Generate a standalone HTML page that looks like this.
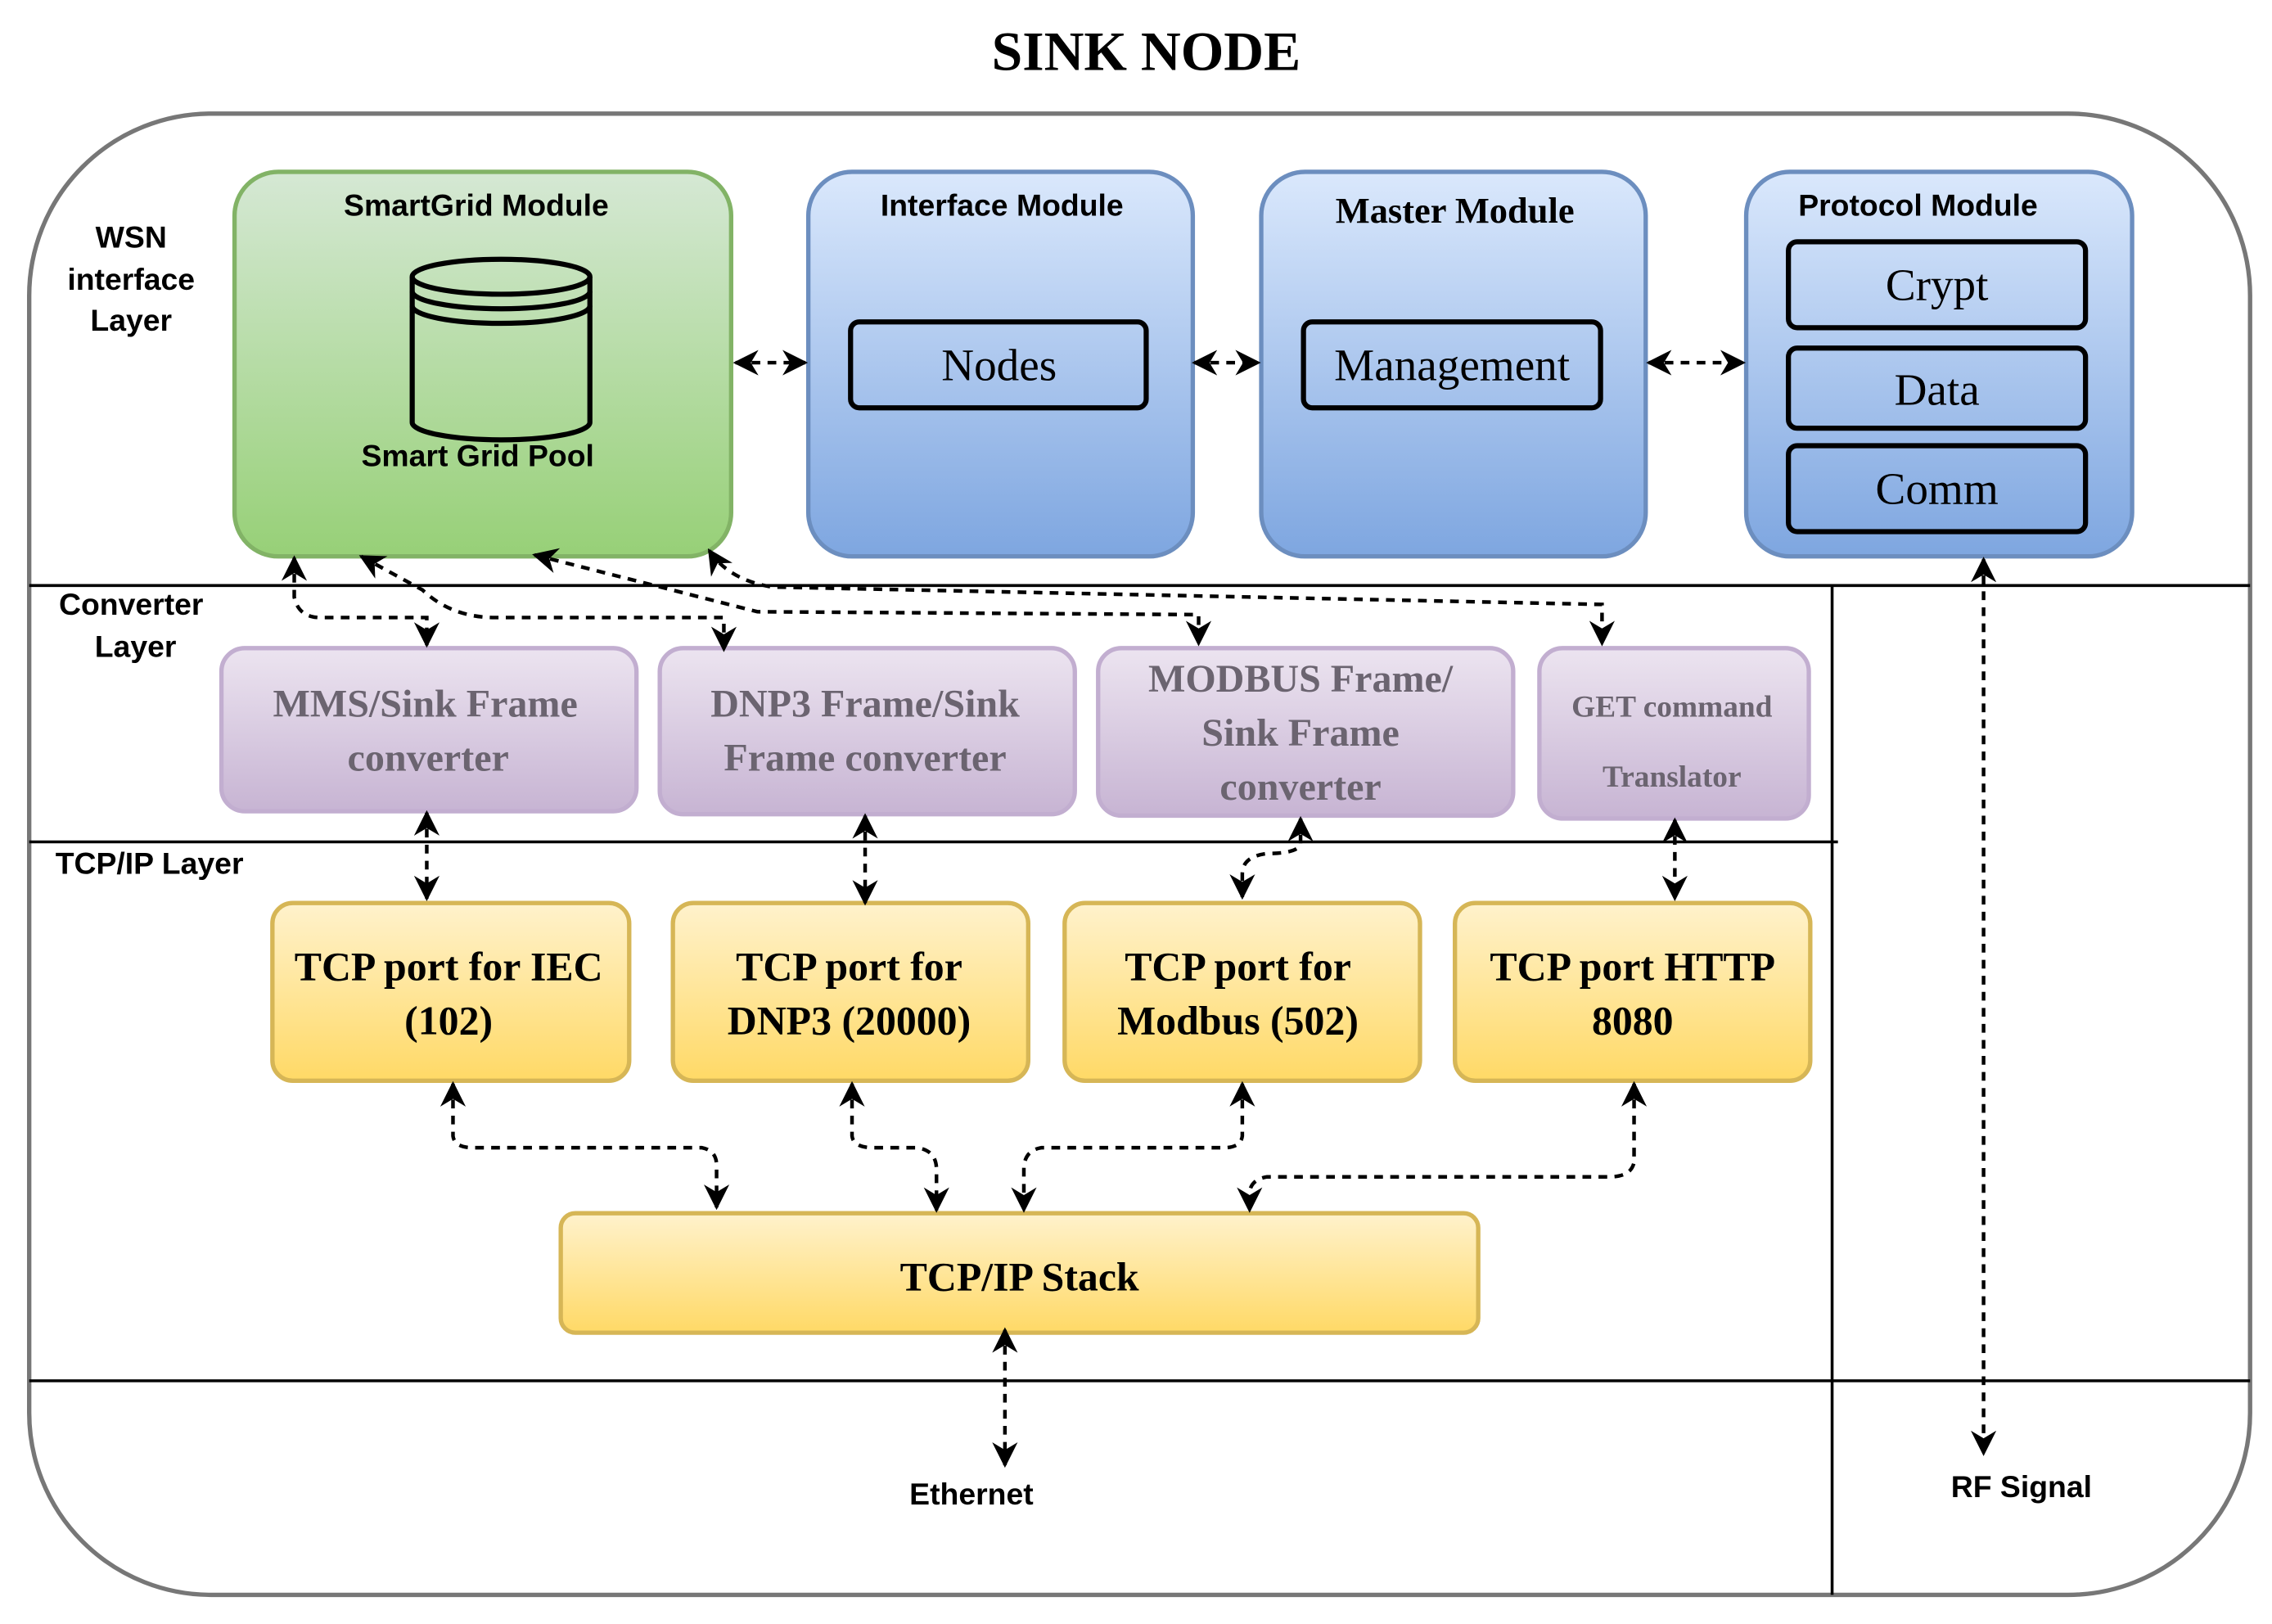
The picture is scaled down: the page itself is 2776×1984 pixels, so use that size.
<!DOCTYPE html>
<html><head><meta charset="utf-8"><style>html,body{margin:0;padding:0;background:#fff}svg{display:block}</style></head>
<body>
<svg width="2776" height="1984" viewBox="0 0 1560 1115" xmlns="http://www.w3.org/2000/svg">
<defs>
<linearGradient id="g" x1="0" y1="0" x2="0" y2="1"><stop offset="0" stop-color="#d5e8d4"/><stop offset="1" stop-color="#97d077"/></linearGradient>
<linearGradient id="b" x1="0" y1="0" x2="0" y2="1"><stop offset="0" stop-color="#dae8fc"/><stop offset="1" stop-color="#7ea6e0"/></linearGradient>
<linearGradient id="p" x1="0" y1="0" x2="0" y2="1"><stop offset="0" stop-color="#ece4f0"/><stop offset="1" stop-color="#c7b4d3"/></linearGradient>
<linearGradient id="y" x1="0" y1="0" x2="0" y2="1"><stop offset="0" stop-color="#fff2cc"/><stop offset="1" stop-color="#ffd966"/></linearGradient>
<marker id="a" viewBox="0 0 10 10" refX="9" refY="5" markerWidth="7" markerHeight="7" orient="auto-start-reverse"><path d="M0,0 L10,5 L0,10 L3,5 z" fill="#000"/></marker>
</defs>
<style>
text{font-family:"Liberation Sans",sans-serif}
text.s,.s text{font-family:"Liberation Serif",serif}
.d{fill:none;stroke:#000;stroke-width:2.5;stroke-dasharray:6,5;marker-start:url(#a);marker-end:url(#a)}
.l{stroke:#000;stroke-width:2}
</style>
<text x="787" y="48" text-anchor="middle" class="s" font-size="38" font-weight="bold">SINK NODE</text>
<rect x="20" y="78" width="1525" height="1017" rx="125" fill="none" stroke="#777" stroke-width="3"/>
<line class="l" x1="20" y1="402" x2="1545" y2="402"/>
<line class="l" x1="20" y1="578" x2="1262" y2="578"/>
<line class="l" x1="20" y1="948" x2="1545" y2="948"/>
<line class="l" x1="1258" y1="402" x2="1258" y2="1095"/>
<g font-size="21" font-weight="bold" text-anchor="middle">
<text x="90" y="170">WSN</text><text x="90" y="199">interface</text><text x="90" y="227">Layer</text>
<text x="90" y="422">Converter</text><text x="93" y="451">Layer</text>
<text x="38" y="600" text-anchor="start">TCP/IP Layer</text>
<text x="667" y="1033">Ethernet</text><text x="1388" y="1028">RF Signal</text>
</g>
<rect x="161" y="118" width="341" height="264" rx="30" fill="url(#g)" stroke="#82b366" stroke-width="3"/>
<text x="327" y="148" font-size="21" font-weight="bold" text-anchor="middle">SmartGrid Module</text>
<path d="M283,190 L283,290 A61,12 0 0 0 405,290 L405,190" fill="none" stroke="#000" stroke-width="3.5"/>
<ellipse cx="344" cy="190" rx="61" ry="12" fill="none" stroke="#000" stroke-width="3.5"/>
<path d="M283,200 A61,12 0 0 0 405,200 M283,210 A61,12 0 0 0 405,210" fill="none" stroke="#000" stroke-width="3.5"/>
<text x="328" y="320" font-size="21" font-weight="bold" text-anchor="middle">Smart Grid Pool</text>
<g fill="url(#b)" stroke="#6c8ebf" stroke-width="3">
<rect x="555" y="118" width="264" height="264" rx="30"/><rect x="866" y="118" width="264" height="264" rx="30"/><rect x="1199" y="118" width="265" height="264" rx="30"/>
</g>
<g fill="none" stroke="#000" stroke-width="3.5">
<rect x="584" y="221" width="203" height="59" rx="6"/><rect x="895" y="221" width="204" height="59" rx="6"/>
<rect x="1228" y="166" width="204" height="59" rx="6"/><rect x="1228" y="239" width="204" height="55" rx="6"/><rect x="1228" y="306" width="204" height="59" rx="6"/>
</g>
<text x="688" y="148" font-size="21" font-weight="bold" text-anchor="middle">Interface Module</text>
<text x="999" y="153" class="s" font-size="25" font-weight="bold" text-anchor="middle">Master Module</text>
<text x="1317" y="148" font-size="21" font-weight="bold" text-anchor="middle">Protocol Module</text>
<g class="s" font-size="31" text-anchor="middle">
<text x="686" y="261">Nodes</text><text x="997" y="261">Management</text>
<text x="1330" y="206">Crypt</text><text x="1330" y="278">Data</text><text x="1330" y="346">Comm</text>
</g>
<g fill="url(#p)" stroke="#c2aed0" stroke-width="3">
<rect x="152" y="445" width="285" height="112" rx="16"/><rect x="453" y="445" width="285" height="114" rx="16"/>
<rect x="754" y="445" width="285" height="115" rx="16"/><rect x="1057" y="445" width="185" height="117" rx="16"/>
</g>
<g class="s" font-weight="bold" fill="#6b6470" text-anchor="middle" font-size="27">
<text x="292" y="492">MMS/Sink Frame</text><text x="294" y="529">converter</text>
<text x="594" y="492">DNP3 Frame/Sink</text><text x="594" y="529">Frame converter</text>
<text x="893" y="475">MODBUS Frame/</text><text x="893" y="512">Sink Frame</text><text x="893" y="549">converter</text>
<text x="1148" y="492" font-size="21">GET command</text><text x="1148" y="540" font-size="21">Translator</text>
</g>
<g fill="url(#y)" stroke="#d6b656" stroke-width="3">
<rect x="187" y="620" width="245" height="122" rx="14"/><rect x="462" y="620" width="244" height="122" rx="14"/>
<rect x="731" y="620" width="244" height="122" rx="14"/><rect x="999" y="620" width="244" height="122" rx="14"/>
<rect x="385" y="833" width="630" height="82" rx="10"/>
</g>
<g class="s" font-weight="bold" font-size="28" text-anchor="middle">
<text x="308" y="673">TCP port for IEC</text><text x="308" y="710">(102)</text>
<text x="583" y="673">TCP port for</text><text x="583" y="710">DNP3 (20000)</text>
<text x="850" y="673">TCP port for</text><text x="850" y="710">Modbus (502)</text>
<text x="1121" y="673">TCP port HTTP</text><text x="1121" y="710">8080</text>
<text x="700" y="886">TCP/IP Stack</text>
</g>
<path class="d" d="M505,249 L553,249"/><path class="d" d="M820,249 L864,249"/><path class="d" d="M1132,249 L1197,249"/>
<path class="d" d="M202,383 L202,410 Q205,424 220,424 L293,424 L293,443"/>
<path class="d" d="M248,382 L290,405 Q310,424 340,424 L497,424 L497,446"/>
<path class="d" d="M367,381 L520,420 L823,422 L823,442"/>
<path class="d" d="M487,378 Q500,398 530,403 L1100,415 L1100,442"/>
<path class="d" d="M293,558 L293,617"/><path class="d" d="M594,560 L594,620"/>
<path class="d" d="M893,562 L893,580 Q890,586 870,586 Q853,588 853,600 L853,616"/>
<path class="d" d="M1150,563 L1150,617"/>
<path class="d" d="M311,744 L311,780 Q312,788 325,788 L482,788 Q492,790 492,800 L492,829"/>
<path class="d" d="M585,744 L585,780 Q586,788 600,788 L630,788 Q643,790 643,803 L643,831"/>
<path class="d" d="M853,744 L853,780 Q852,788 840,788 L715,788 Q703,790 703,803 L703,831"/>
<path class="d" d="M1122,744 L1122,798 Q1120,808 1105,808 L870,808 Q858,810 858,820 L858,831"/>
<path class="d" d="M690,913 L690,1006"/>
<path class="d" d="M1362,384 L1362,998"/>
</svg>
</body></html>
